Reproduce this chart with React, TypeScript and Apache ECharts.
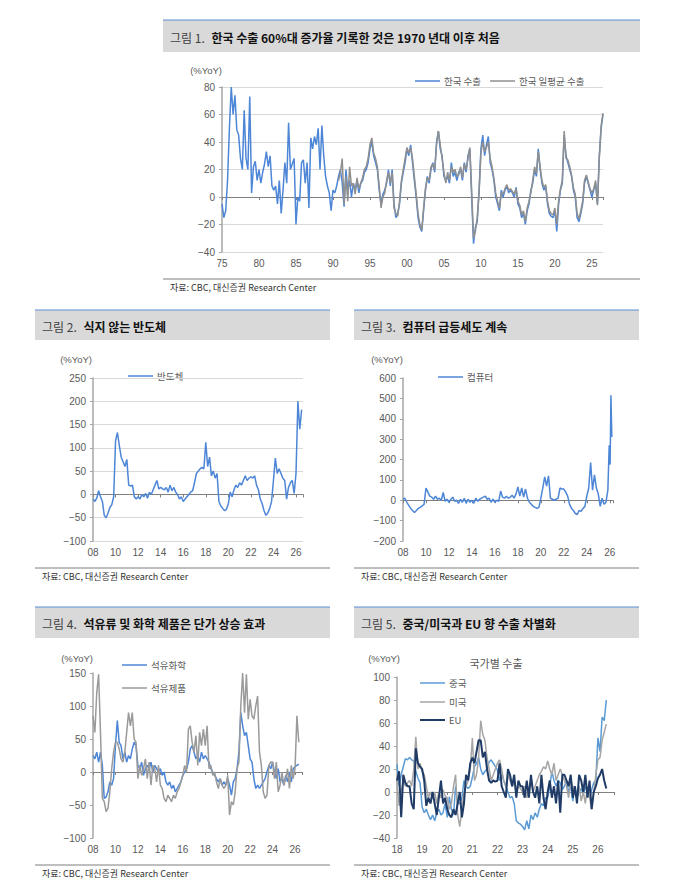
import React, { useEffect, useRef } from "react";
import * as echarts from "echarts";

// ---------- Panel 1: 한국 수출 (quarterly, from 1975) ----------
const p1Start = 1975;
const p1Step = 0.25;
const koreaExports = [
  -5, -15, -10, 12,
  50, 80, 60, 74,
  49, 45, 28, 20,
  63, 28, 20, 73,
  3, 22, 26, 12,
  20, 10, 18, 24,
  33, 22, 30, 8,
  5, 8, -5, 12,
  -12, 5, 25, 10,
  54, 20, 24, 28,
  -20, 0, -3, 25,
  27, 10, 25, -8,
  43, 35, 44, 38,
  50, 20, 52, 30,
  15, 8, 3, -10,
  5, 3, 8, 15,
  20, 10, -7, 20,
  5, 12, 0, 10,
  5, 12, 3, 10,
  12, 18, 20, 25,
  35, 40, 30, 25,
  20, 5, -5, 2,
  5, 10, 20, 8,
  20, -5, -15, -12,
  -5, 10, 18, 25,
  35, 30, 38, 25,
  12, 0, -15, -22,
  -25, -10, 5, 15,
  10, 20, 25, 18,
  40, 48, 35, 30,
  15, 12, 15, 10,
  25, 15, 18, 12,
  18, 20, 12, 25,
  18, 30, 35, 0,
  -34, -22, -18, 5,
  35, 45, 30, 38,
  44, 25, 20, 12,
  0, -5, -10, 5,
  0, 5, 8, 3,
  5, 3, 0, 7,
  -5, -8, -15, -12,
  -20, -10, -5, 5,
  10, 20, 15, 35,
  20, 10, 5, 8,
  -5, -12, -14, -15,
  -10, -25, -5, 5,
  10, 45, 30, 25,
  20, 15, 5, 0,
  -15, -18, -12, -5,
  10, 15, 10, 5,
  0, 5, 10, -5,
  30, 50, 60,
];
const dailyStart = 1990.75;
const koreaDailyExports = [
  12,
  18, 28, -5, 15,
  -3, 22, 8, 10,
  2, 14, 6, 10,
  14, 20, 22, 28,
  38, 43, 32, 28,
  22, 8, -8, 0,
  3, 12, 18, 10,
  18, -8, -12, -14,
  -3, 12, 20, 28,
  36, 32, 36, 28,
  15, 2, -12, -20,
  -24, -8, 6, 14,
  12, 22, 24, 20,
  38, 48, 38, 28,
  18, 10, 18, 12,
  22, 18, 20, 15,
  16, 22, 14, 24,
  20, 28, 36, 4,
  -30, -25, -15, 3,
  32, 40, 33, 36,
  40, 28, 22, 14,
  3, -3, -8, 3,
  2, 6, 9, 5,
  6, 4, 2, 6,
  -3, -6, -13, -10,
  -18, -8, -3, 3,
  12, 22, 17, 33,
  22, 12, 7, 9,
  -3, -10, -12, -13,
  -8, -20, -3, 6,
  12, 48, 28, 27,
  22, 16, 7, 2,
  -12, -16, -10, -3,
  12, 16, 11, 6,
  3, 6, 12, -6,
  28, 52, 61,
];

// ---------- Panels 2-4: bi-monthly from 2008 ----------
const p2Start = 2008;
const p2Step = 1 / 6;
const semiconductor = [
  -10, -15, -8, 8, -5, -15,
  -45, -50, -40, -28, -22, -5,
  115, 133, 105, 80, 70, 60,
  75, 20, 18, 20, -5, -10,
  -5, -10, 0, -5, 2, -8,
  5, 0, 10, 20, 30, 12,
  15, 12, 10, 15, 5, 20,
  8, 15, 5, 0, -10, -5,
  -15, -10, -5, 0, 5, 8,
  25, 45, 50, 55, 58, 55,
  112, 60, 80, 40, 50, 35,
  45, -15, -25, -30, -35, -32,
  -20, 5, -5, 10, 20, 15,
  25, 20, 30, 40, 30, 35,
  38, 35, 40, 20, 10, -10,
  -20, -35, -45, -40, -30, -15,
  30, 78, 45, 55, 45, 35,
  30, -10, 15, 25, 30, 2,
  45, 200, 140, 182,
];
const computer = [
  5, 10, -10, -25, -40, -50,
  -60, -50, -40, -35, -28, -20,
  60, 40, 20, 15, 5, 20,
  5, 10, 0, 38, -5, 5,
  -10, 5, 15, -5, 0, -15,
  5, -10, 10, -15, 5, -10,
  0, -15, 10, -5, 5, 10,
  15, 20, 5, 10, -10, 5,
  -10, 0, -5, 45, 15, 10,
  20, 10, 15, 25, 10, 30,
  65, 20, 60, 15, 55, 10,
  -10, -20, -30, -35, -40, -35,
  10, 60, 115, 70, 120, 10,
  5, 0, 5, 10, 60, 55,
  55, 40, 20, -20, -40, -50,
  -65, -70, -50, -55, -40, -30,
  20, 60, 185, 50, 125, 60,
  30, -30, 10, -20, -10, 50,
];
const computerTail: [number, number][] = [
  [2025.95, 270], [2026.03, 175], [2026.1, 515], [2026.18, 310],
];
const petrochemical = [
  25, 20, 30, 15, 30, 10,
  -40, -38, -30, -15, -20, -10,
  40, 78, 45, 40, 20, 30,
  15, 25, 20, 35, 45, 40,
  10, 5, 15, -5, 5, 10,
  5, 15, 0, 10, 5, 0,
  5, -5, 0, -15, -20, -15,
  -25, -20, -30, -25, -20, -15,
  -5, 0, 5, 15, 35, 40,
  30, 20, 25, 15, 30, 20,
  25, 20, 15, 5, 0, -5,
  -10, -15, -10, -20, -15, -20,
  -10, -20, -35, -15, -10, 5,
  30, 90, 70, 55, 60, 40,
  20, 15, -10, -25, -20, -25,
  -20, -15, -10, 0, 10, 5,
  15, 0, -10, 5, -15, -10,
  -20, -5, -15, 0, -15, 5,
  8, 10, 12,
];
const petroleumProducts = [
  85, 60, 120, 148, 60, -40,
  -45, -60, -55, -30, 5, 30,
  45, 45, 35, 20, 15, 30,
  60, 90, 70, 90, 50, 45,
  -10, 10, -5, 5, 20, -10,
  15, -20, 10, 5, -15, 10,
  -20, -25, -40, -45, -35, -40,
  -45, -35, -40, -30, -25, -15,
  -5, 10, 0, 65, 70, 45,
  30, 55, 10, 60, 40, 65,
  40, 70, 5, 10, -5, 0,
  -15, -25, -10, -20, -25, -20,
  -5, -65, -45, -50, -30, 5,
  15, 100, 150, 90, 148, 80,
  110, 85, 80, 100, 115, 30,
  10, -30, -40, -35, 10, 15,
  15, -10, 15, -30, -20, 0,
  -20, -10, 5, -25, 10, -10,
  5, 85, 45,
];

// ---------- Panel 5: monthly from 2018 ----------
const p5Start = 2018;
const p5Step = 1 / 12;
const toChina = [
  24, 5, 15, 22, 29, 28, 30, 28, 27, 18, 12, 8,
  -13, -18, -15, -20, -24, -20, -25, -18, -15, -20, -18, -10,
  -22, -4, -15, -20, 5, -10, -10, -5, 10, 5, 3, 5,
  13, 22, 25, 30, 20, 15, 18, 20, 26, 28, 25, 22,
  19, 10, 15, 10, 5, 0, -5, -4, -10, -25, -27, -28,
  -30, -33, -25, -32, -20, -24, -18, -22, -15, -10, -12, -5,
  -5, 5, 18, 10, 5, 10, 8, 2, 5, 10, 0, 5,
  -8, 5, -5, 0, 3, -2, 5, 0, -5, 2, 8, 10,
  47, 35, 65, 62, 80,
];
const toUS = [
  10, -12, 0, 10, 5, 8, 10, 5, 20, 48, 20, 25,
  18, 15, 5, -5, 0, -5, 0, -10, 0, -5, 2, -3,
  -5, -15, -10, 5, 15, -20, -30, -15, 0, 5, 10, 20,
  47, 10, 15, 30, 62, 50, 45, 30, 20, 10, 15, 20,
  25, 28, 20, 10, 5, 15, 10, 5, 8, 0, 5, 3,
  0, 5, -5, 3, 10, 0, 5, 10, 15, 18, 22, 20,
  27, 20, 15, 25, 10, 15, 20, 15, 10, 5, -5, 10,
  5, -2, -5, 5, -8, 0, -10, 5, -5, -15, 0, 15,
  28, 30, 45, 52, 59,
];
const toEU = [
  10, 18, -22, 15, 8, 5, 5, -10, -15, 38, 25, 22,
  20, 10, -12, -5, -10, 0, -10, -20, -5, 10, -10, -5,
  -15, -20, -22, -15, -20, -10, 0, -22, -10, 15, 10, 25,
  30, 25, 35, 45, 45, 30, 35, 20, 10, 8, 10, 9,
  10, 25, 5, 0, -5, 20, 15, 5, 15, -5, 10, 5,
  5, -5, 10, -5, 15, 0, -5, 5, -10, 15, -5, -15,
  0, 10, -5, 5, -10, 10, -18, 15, 15, 10, 5, 15,
  -5, 5, -10, 15, 10, 0, 15, -5, 10, -15, 0, 5,
  12, 15, 20, 10, 3,
];

const FONT = "'Liberation Sans', Arial, 'Noto Sans CJK KR', sans-serif";
const KFONT = "'Noto Sans CJK KR', 'Liberation Sans', sans-serif";
const AXIS_TXT = "#595959";
const AXIS_LINE = "#a6a6a6";

function pairs(start: number, step: number, vals: number[]): [number, number][] {
  return vals.map((v, i) => [start + i * step, v] as [number, number]);
}

type Panel = {
  grid: { left: number; top: number; width: number; height: number };
  xMin: number; xMax: number; xInt: number;
  yMin: number; yMax: number; yInt: number;
  split: boolean;
};

const panels: Panel[] = [
  { grid: { left: 222, top: 87, width: 381, height: 165 }, xMin: 1975, xMax: 2026.5, xInt: 5, yMin: -40, yMax: 80, yInt: 20, split: true },
  { grid: { left: 93, top: 378, width: 210, height: 163 }, xMin: 2008, xMax: 2026.62, xInt: 2, yMin: -100, yMax: 250, yInt: 50, split: true },
  { grid: { left: 403, top: 378, width: 210, height: 163 }, xMin: 2008, xMax: 2026.28, xInt: 2, yMin: -200, yMax: 600, yInt: 100, split: false },
  { grid: { left: 93, top: 673, width: 209, height: 165 }, xMin: 2008, xMax: 2026.62, xInt: 2, yMin: -100, yMax: 150, yInt: 50, split: false },
  { grid: { left: 397, top: 677, width: 217, height: 161 }, xMin: 2018, xMax: 2026.64, xInt: 1, yMin: -40, yMax: 100, yInt: 20, split: false },
];

function yearFmt(iv: number) {
  return (v: number) => {
    const r = Math.round(v);
    if (Math.abs(v - r) > 1e-6 || r % iv !== 0) return "";
    return String(r % 100).padStart(2, "0");
  };
}
const numFmt = (v: number) => (v < 0 ? "\u2212" + Math.abs(v) : String(v));

function buildOption() {
  const grids: any[] = [];
  const xAxes: any[] = [];
  const yAxes: any[] = [];
  panels.forEach((p, i) => {
    grids.push({ ...p.grid, containLabel: false });
    xAxes.push({
      type: "value", gridIndex: i, min: p.xMin, max: p.xMax, interval: p.xInt,
      position: "bottom",
      axisLine: { show: false, onZero: false },
      axisTick: { show: false },
      splitLine: { show: false },
      axisLabel: { formatter: yearFmt(p.xInt), color: AXIS_TXT, fontSize: 10, fontFamily: FONT, margin: 6, showMaxLabel: true },
    });
    xAxes.push({
      type: "value", gridIndex: i, min: p.xMin, max: p.xMax, interval: p.xInt,
      position: "bottom",
      axisLine: { show: true, onZero: true, lineStyle: { color: "#808080", width: 1 } },
      axisTick: { show: true, length: 3, lineStyle: { color: "#808080" } },
      axisLabel: { show: false },
      splitLine: { show: false },
    });
    yAxes.push({
      type: "value", gridIndex: i, min: p.yMin, max: p.yMax, interval: p.yInt,
      axisLine: { show: true, onZero: false, lineStyle: { color: AXIS_LINE, width: 1.5 } },
      axisTick: { show: true, length: 3, lineStyle: { color: AXIS_LINE } },
      splitLine: { show: p.split, lineStyle: { color: "#d9d9d9", width: 1 } },
      axisLabel: { formatter: numFmt, color: AXIS_TXT, fontSize: 10, fontFamily: FONT, margin: 7 },
    });
  });

  const line = (name: string, gi: number, data: [number, number][], color: string, width = 1.5) => ({
    type: "line", name, xAxisIndex: gi * 2, yAxisIndex: gi, data,
    showSymbol: false, symbol: "none", silent: true,
    lineStyle: { color, width }, itemStyle: { color },
  });

  const BLUE = "#4d86d6";
  const GRAY = "#8f8f8f";
  const series = [
    line("한국 수출", 0, pairs(p1Start, p1Step, koreaExports), BLUE),
    line("한국 일평균 수출", 0, pairs(dailyStart, p1Step, koreaDailyExports), GRAY),
    line("반도체", 1, pairs(p2Start, p2Step, semiconductor), BLUE),
    line("컴퓨터", 2, pairs(p2Start, p2Step, computer).concat(computerTail), BLUE),
    line("석유화학", 3, pairs(p2Start, p2Step, petrochemical), BLUE),
    line("석유제품", 3, pairs(p2Start, p2Step, petroleumProducts), "#9a9a9a"),
    line("중국", 4, pairs(p5Start, p5Step, toChina), "#5b9bd5"),
    line("미국", 4, pairs(p5Start, p5Step, toUS), "#a5a5a5"),
    line("EU", 4, pairs(p5Start, p5Step, toEU), "#1f3b66", 2),
  ];

  const g: any[] = [];
  const header = (x1: number, x2: number, yTop: number, yBot: number, num: string, title: string) => {
    g.push({ type: "rect", shape: { x: x1, y: yTop, width: x2 - x1, height: yBot - yTop }, style: { fill: "#d9d9d9" }, silent: true });
    g.push({ type: "line", shape: { x1, y1: yTop, x2, y2: yTop }, style: { stroke: "#5b8fd6", lineWidth: 1 }, silent: true });
    g.push({
      type: "text", x: x1 + 7, y: (yTop + yBot) / 2 + 1, silent: true,
      style: {
        text: `{a|${num}}  {b|${title}}`,
        verticalAlign: "middle", align: "left",
        rich: {
          a: { fontSize: 12, fontFamily: KFONT, fill: "#404040" },
          b: { fontSize: 12, fontFamily: KFONT, fontWeight: "bold", fill: "#111111" },
        },
      },
    });
  };
  const footer = (x1: number, x2: number, y: number) => {
    g.push({ type: "line", shape: { x1, y1: y, x2, y2: y }, style: { stroke: "#7f7f7f", lineWidth: 1 }, silent: true });
    g.push({
      type: "text", x: x1 + 7, y: y + 8, silent: true,
      style: { text: "자료: CBC, 대신증권 Research Center", fontSize: 9, fontFamily: "'Liberation Sans Narrow', " + KFONT, fill: "#333333", verticalAlign: "middle" },
    });
  };
  const unit = (x: number, y: number) => {
    g.push({ type: "text", x, y, silent: true, style: { text: "(%YoY)", fontSize: 9.5, fontFamily: FONT, fill: AXIS_TXT, verticalAlign: "middle", align: "right" } });
  };
  const legend = (x: number, y: number, color: string, label: string, w = 1.5) => {
    g.push({ type: "line", shape: { x1: x, y1: y, x2: x + 25, y2: y }, style: { stroke: color, lineWidth: w }, silent: true });
    g.push({ type: "text", x: x + 29, y, silent: true, style: { text: label, fontSize: 9.5, fontFamily: KFONT, fill: AXIS_TXT, verticalAlign: "middle" } });
  };

  header(163, 640, 20, 52, "그림 1.", "한국 수출 60%대 증가율 기록한 것은 1970 년대 이후 처음");
  header(35, 330, 310, 340, "그림 2.", "식지 않는 반도체");
  header(354, 639, 310, 340, "그림 3.", "컴퓨터 급등세도 계속");
  header(35, 330, 607, 638, "그림 4.", "석유류 및 화학 제품은 단가 상승 효과");
  header(354, 639, 607, 638, "그림 5.", "중국/미국과 EU 향 수출 차별화");

  footer(163, 640, 279);
  footer(35, 330, 568);
  footer(354, 639, 568);
  footer(35, 330, 865);
  footer(354, 639, 865);

  unit(222, 70);
  unit(92, 359);
  unit(403, 359);
  unit(93, 658);
  unit(400, 658);

  legend(415, 81, BLUE, "한국 수출");
  legend(490, 81, GRAY, "한국 일평균 수출");
  legend(128, 376, BLUE, "반도체");
  legend(438, 377, BLUE, "컴퓨터");
  legend(122, 665, BLUE, "석유화학");
  legend(122, 688, "#9a9a9a", "석유제품");
  legend(420, 683, "#5b9bd5", "중국");
  legend(420, 702, "#a5a5a5", "미국");
  legend(420, 720, "#1f3b66", "EU", 2);

  g.push({ type: "text", x: 496, y: 663, silent: true, style: { text: "국가별 수출", fontSize: 11, fontFamily: KFONT, fill: AXIS_TXT, align: "center", verticalAlign: "middle" } });

  return {
    animation: false,
    backgroundColor: "#ffffff",
    grid: grids,
    xAxis: xAxes,
    yAxis: yAxes,
    series,
    graphic: { elements: g },
  };
}

export default function App() {
  const ref = useRef<HTMLDivElement>(null);
  useEffect(() => {
    if (!ref.current) return;
    const chart = echarts.init(ref.current, undefined, { renderer: "svg" });
    chart.setOption(buildOption() as any);
    return () => chart.dispose();
  }, []);
  return (
    <div
      ref={ref}
      style={{ position: "absolute", left: 0, top: 0, width: 676, height: 886, background: "#ffffff" }}
    />
  );
}
